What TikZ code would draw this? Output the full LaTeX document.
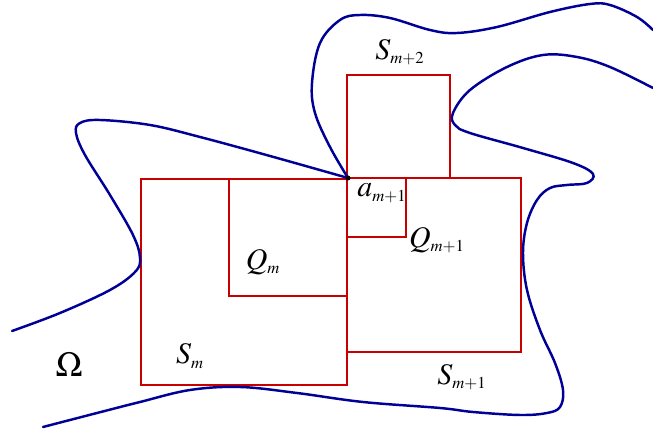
\documentclass[tikz,border=0pt]{standalone}
\usepackage{mathptmx}
\usepackage{tikz}
\DeclareMathSizes{17}{17}{9.5}{7}
\definecolor{sqred}{RGB}{200,0,0}
\definecolor{bdblue}{RGB}{0,0,150}
\begin{document}
\begin{tikzpicture}[x=0.02cm,y=-0.02cm,font=\fontsize{17}{20}\selectfont,
  square/.style={draw=sqred,line width=1.1pt},
  bdry/.style={draw=bdblue,line width=1.4pt,line cap=round}]
  \useasboundingbox (0,0) rectangle (653,431);
  % squares
  \draw[square] (141,179) rectangle (347,385);
  \draw[square] (229,179) rectangle (347,296);
  \draw[square] (347,178) rectangle (521,352);
  \draw[square] (347,178) rectangle (406,237);
  \draw[square] (347,75) rectangle (450,178);
  % boundary of Omega
  \coordinate (a) at (348,178);
  \draw[bdry] plot[smooth,tension=0.6] coordinates {(12,331) (60,313) (110,290) (135,272) (140,258) (133,235) (110,195) (85,155) (76,133) (80,123) (100,120) (150,125) (200,137) (270,156) (348,178)};
  \draw[bdry] plot[smooth,tension=0.6] coordinates {(348,178) (330,147) (315,113) (312,83) (320,43) (340,20) (360,15) (390,18) (430,30) (457,33) (497,27) (550,12) (590,4) (610,5) (637,17) (653,30)};
  \draw[bdry] plot[smooth,tension=0.6] coordinates {(653,88) (610,67) (577,57) (543,55) (507,67) (470,90) (453,113) (455,125) (470,133) (523,148) (573,163) (593,174) (587,183) (567,185) (550,188) (537,200) (527,223) (523,253) (527,290) (540,330) (555,363) (563,390) (560,407) (547,413) (520,415) (473,412) (440,408) (363,402) (297,393) (240,387) (190,390) (140,402) (97,413) (43,427)};
  \fill (a) circle (2.5);
  % labels
  \node (om) at (69,365) {\fontsize{20}{24}\selectfont$\Omega$};
  \node (sm) at (190,356) {$S_m$};
  \node (qm) at (263,262) {$Q_m$};
  \node (am) at (382,193) {$a_{m+1}$};
  \node (qm1) at (437,240) {$Q_{m+1}$};
  \node (sm1) at (462,377) {$S_{m+1}$};
  \node (sm2) at (400,52) {$S_{m+2}$};
\end{tikzpicture}
\end{document}
